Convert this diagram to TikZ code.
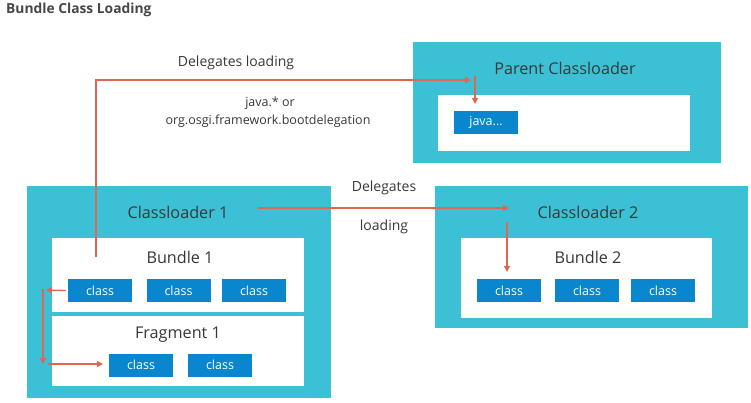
\documentclass[tikz,border=0pt]{standalone}
\usepackage{fontspec}
\setmainfont{Open Sans}
\usepackage{xcolor}
\usetikzlibrary{arrows.meta}
\definecolor{loaderteal}{HTML}{3CC0D6}
\definecolor{classblue}{HTML}{0A86CE}
\definecolor{delegred}{HTML}{DD6753}
\definecolor{textgray}{HTML}{383838}

\begin{document}
\begin{tikzpicture}[x=1pt,y=-1pt,
  loader/.style={fill=loaderteal,inner sep=0,anchor=north west},
  panel/.style={fill=white,inner sep=0,anchor=north west},
  cls/.style={fill=classblue,text=white,inner sep=0,minimum width=64pt,minimum height=23pt,font=\fontsize{12.5}{14}\selectfont},
  head/.style={text=textgray,inner sep=0,font=\fontsize{16.2}{19}\selectfont},
  note/.style={text=textgray,inner sep=0,font=\fontsize{12.5}{15}\selectfont},
  deleg/.style={draw=delegred,line width=1.3pt,-{Triangle[length=6pt,width=6pt]}}]
\useasboundingbox (0,0) rectangle (751,402);
\node[anchor=west,inner sep=0,text=black!72,font=\bfseries\fontsize{13.8}{16}\selectfont] (title) at (6,10) {Bundle Class Loading};

% parent classloader
\node[loader,minimum width=308pt,minimum height=121pt] (parent) at (413,42) {};
\node[panel,minimum width=252pt,minimum height=56pt] (ppanel) at (438,95) {};
\node[head] (ptitle) at (565,68) {Parent Classloader};
\node[cls] (java) at (486,122.5) {java...};

% classloader 1
\node[loader,minimum width=304pt,minimum height=212pt] (cl1) at (27,186) {};
\node[head] (cl1title) at (178,212) {Classloader 1};
\node[panel,minimum width=252pt,minimum height=74pt] (bundle1) at (52,238) {};
\node[head] (b1title) at (180,257) {Bundle 1};
\node[cls] (c11) at (100,290.5) {class};
\node[cls] (c12) at (178.5,290.5) {class};
\node[cls] (c13) at (254,290.5) {class};
\node[panel,minimum width=252pt,minimum height=70pt] (frag1) at (52,316) {};
\node[head] (f1title) at (178,335) {Fragment 1};
\node[cls] (f11) at (141,365) {class};
\node[cls] (f12) at (220,365) {class};

% classloader 2
\node[loader,minimum width=313pt,minimum height=142pt] (cl2) at (435,186) {};
\node[head] (cl2title) at (588,212) {Classloader 2};
\node[panel,minimum width=251pt,minimum height=80pt] (bundle2) at (461,238) {};
\node[head] (b2title) at (588,257) {Bundle 2};
\node[cls] (c21) at (509,290.5) {class};
\node[cls] (c22) at (587,290.5) {class};
\node[cls] (c23) at (663,290.5) {class};

% labels
\node[note,font=\fontsize{14}{16}\selectfont] (lbparent) at (236,63) {Delegates loading};
\node[note] (lbjava) at (270,103) {java.* or};
\node[note] (lbboot) at (268,121) {org.osgi.framework.bootdelegation};
\node[note,font=\fontsize{14}{16}\selectfont] (lbdel) at (384,188) {Delegates};
\node[note,font=\fontsize{14}{16}\selectfont] (lbload) at (384,227) {loading};

% delegation paths
\coordinate (b1out) at (96,257);
\coordinate (pin) at (471,80);
\coordinate (ptop) at (475,76);
\coordinate (pdown) at (475,104);
\coordinate (cl1out) at (258,208);
\coordinate (cl2in) at (509,208);
\coordinate (cl2top) at (507,222);
\coordinate (cl2down) at (507,272);
\coordinate (fragl) at (46,290);
\coordinate (fragtop) at (43,289);
\coordinate (fragbot) at (43,364);
\coordinate (fragin) at (48,364);
\coordinate (fragtip) at (103,364);
\draw[deleg] (b1out) |- (pin);
\draw[deleg] (ptop) -- (pdown);
\draw[deleg] (cl1out) -- (cl2in);
\draw[deleg] (cl2top) -- (cl2down);
\draw[deleg] ([xshift=-2pt]c11.west) -- (fragl);
\draw[deleg] (fragtop) -- (fragbot);
\draw[deleg] (fragin) -- (fragtip);
\end{tikzpicture}
\end{document}
